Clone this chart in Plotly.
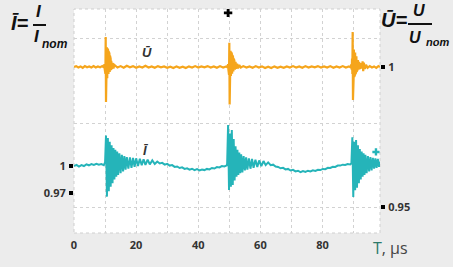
import plotly.graph_objects as go

# ---------------- data ----------------
x_ticks = [0, 20, 40, 60, 80]
x_minor = [10, 30, 50, 70, 90]

# normalised voltage U/Unom (right axis): (time us, value)
U_base1 = [(0, 1.0000), (0.7, 1.0003), (1.4, 0.9998), (2.1, 1.0002), (2.8, 0.9997),
           (3.5, 1.0003), (4.2, 0.9999), (4.9, 1.0002), (5.6, 0.9998), (6.3, 1.0003),
           (7.0, 0.9998), (7.7, 1.0002), (8.4, 0.9999), (9.1, 1.0003), (9.6, 0.9998)]
U_spike1 = [(9.8, 1.0010), (9.9, 0.9990), (10.0, 1.0030), (10.1, 0.9975), (10.2, 1.0107),
            (10.3, 0.9875), (10.4, 1.0065), (10.5, 0.9950), (10.6, 1.0070), (10.7, 0.9960),
            (10.8, 1.0065), (10.9, 0.9970), (11.0, 1.0060), (11.1, 0.9975), (11.2, 1.0055),
            (11.3, 0.9978), (11.4, 1.0048), (11.5, 0.9982), (11.6, 1.0040), (11.7, 0.9985),
            (11.8, 1.0030), (11.9, 0.9988), (12.0, 1.0022), (12.2, 0.9992), (12.4, 1.0014),
            (12.7, 0.9995), (13.0, 1.0007)]
U_base2 = [(14, 0.9998), (15, 1.0003), (16, 0.9997), (17, 1.0004), (18, 0.9999),
           (19, 1.0003), (20, 0.9997), (21, 1.0002), (22, 0.9998), (23, 1.0004),
           (24, 0.9998), (25, 1.0002), (26, 0.9997), (27, 1.0003), (28, 0.9999),
           (29, 1.0002), (30, 0.9997), (31, 1.0001), (32, 0.9996), (33, 1.0002),
           (34, 0.9997), (35, 1.0001), (36, 0.9996), (37, 1.0002), (38, 0.9998),
           (39, 1.0003), (40, 0.9998), (41, 1.0002), (42, 0.9999), (43, 1.0003),
           (44, 0.9998), (45, 1.0002), (46, 0.9997), (47, 1.0003), (48, 0.9998),
           (49, 1.0002), (49.4, 0.9998)]
U_spike2 = [(49.6, 1.0010), (49.7, 0.9990), (49.8, 1.0035), (49.9, 0.9972), (50.0, 1.0086),
            (50.1, 0.9866), (50.2, 1.0055), (50.3, 0.9960), (50.4, 1.0058), (50.5, 0.9968),
            (50.6, 1.0052), (50.7, 0.9972), (50.8, 1.0048), (50.9, 0.9976), (51.0, 1.0042),
            (51.1, 0.9980), (51.2, 1.0036), (51.3, 0.9984), (51.4, 1.0030), (51.5, 0.9987),
            (51.6, 1.0024), (51.8, 0.9990), (52.0, 1.0018), (52.2, 0.9993), (52.5, 1.0012),
            (52.8, 0.9995), (53.2, 1.0007), (53.7, 0.9998)]
U_base3 = [(54.5, 1.0003), (55.5, 0.9998), (56.5, 1.0002), (57.5, 0.9997), (58.5, 1.0003),
           (59.5, 0.9998), (60.5, 1.0002), (61.5, 0.9996), (62.5, 1.0001), (63.5, 0.9996),
           (64.5, 1.0002), (65.5, 0.9997), (66.5, 1.0001), (67.5, 0.9997), (68.5, 1.0002),
           (69.5, 0.9998), (70.5, 1.0003), (71.5, 0.9998), (72.5, 1.0002), (73.5, 0.9997),
           (74.5, 1.0003), (75.5, 0.9998), (76.5, 1.0002), (77.5, 0.9999), (78.5, 1.0003),
           (79.5, 0.9998), (80.5, 1.0002), (81.5, 0.9998), (82.5, 1.0003), (83.5, 0.9997),
           (84.5, 1.0002), (85.5, 0.9998), (86.5, 1.0003), (87.5, 0.9998), (88.5, 1.0002),
           (89.1, 0.9998)]
U_spike3 = [(89.3, 1.0010), (89.4, 0.9990), (89.5, 1.0030), (89.6, 0.9975), (89.7, 1.0125),
            (89.8, 0.9882), (89.9, 1.0068), (90.0, 0.9955), (90.1, 1.0062), (90.2, 0.9965),
            (90.3, 1.0058), (90.4, 0.9970), (90.5, 1.0052), (90.6, 0.9975), (90.7, 1.0046),
            (90.8, 0.9980), (90.9, 1.0038), (91.0, 0.9984), (91.1, 1.0032), (91.2, 0.9988),
            (91.4, 1.0025), (91.6, 0.9990), (91.8, 1.0018), (92.0, 0.9992), (92.3, 1.0014),
            (92.6, 0.9994), (92.9, 1.0020), (93.1, 0.9985), (93.3, 1.0015), (93.6, 0.9993),
            (94.0, 1.0008), (94.5, 0.9997)]
U_base4 = [(95.2, 1.0003), (95.9, 0.9998), (96.6, 1.0002), (97.3, 0.9997), (98.0, 1.0003),
           (98.5, 1.0000)]

# normalised current I/Inom (left axis): (time us, value)
I_base1 = [(0, 1.0000), (0.8, 1.0012), (1.6, 0.9993), (2.4, 1.0010), (3.2, 1.0000),
           (4.0, 1.0018), (4.8, 1.0008), (5.6, 1.0022), (6.4, 1.0012), (7.2, 1.0025),
           (8.0, 1.0015), (8.8, 1.0022), (9.6, 1.0010)]
I_spike1 = [(10.0, 1.004), (10.3, 1.034), (10.6, 0.966), (10.9, 1.031), (11.2, 0.972),
            (11.5, 1.027), (11.8, 0.977), (12.1, 1.023), (12.4, 0.981), (12.7, 1.020),
            (13.0, 0.985), (13.3, 1.018), (13.6, 0.988), (13.9, 1.016), (14.2, 0.990),
            (14.6, 1.014), (15.0, 0.992), (15.4, 1.0125), (15.8, 0.994), (16.2, 1.011),
            (16.6, 0.996), (17.0, 1.0100), (17.5, 0.997), (18.0, 1.0095), (18.5, 0.998),
            (19.0, 1.009), (19.5, 0.999), (20.0, 1.0085), (20.6, 1.000), (21.2, 1.008),
            (21.8, 1.0008), (22.4, 1.0075), (23.0, 1.0012), (23.7, 1.007), (24.4, 1.0018),
            (25.2, 1.0063), (26.0, 1.0022), (26.8, 1.005), (27.6, 1.0028)]
I_base2 = [(28.4, 1.0035), (29.2, 1.0015), (30.0, 1.0025), (30.8, 1.0005), (31.6, 1.0010),
           (32.4, 0.9990), (33.2, 0.9995), (34.0, 0.9978), (34.8, 0.9985), (35.6, 0.9968),
           (36.4, 0.9975), (37.2, 0.9960), (38.0, 0.9970), (38.8, 0.9955), (39.6, 0.9965),
           (40.4, 0.9952), (41.2, 0.9962), (42.0, 0.9955), (42.8, 0.9968), (43.6, 0.9962),
           (44.4, 0.9978), (45.2, 0.9972), (46.0, 0.9988), (46.8, 0.9985), (47.6, 1.0000),
           (48.4, 0.9995), (49.2, 1.0008)]
I_spike2 = [(49.3, 1.003), (49.6, 1.0456), (49.9, 0.9733), (50.2, 1.036), (50.5, 0.977),
            (50.8, 1.040), (51.1, 0.979), (51.4, 1.030), (51.7, 0.984), (52.0, 1.022),
            (52.3, 0.988), (52.6, 1.018), (52.9, 0.990), (53.2, 1.015), (53.5, 0.992),
            (53.8, 1.013), (54.2, 0.993), (54.6, 1.011), (55.0, 0.995), (55.4, 1.0095),
            (55.8, 0.996), (56.3, 1.0085), (56.8, 0.997), (57.3, 1.0078), (57.8, 0.998),
            (58.4, 1.007), (59.0, 0.999), (59.6, 1.0062), (60.3, 1.000), (61.0, 1.0055),
            (61.7, 1.001), (62.5, 1.004), (63.3, 1.001)]
I_base3 = [(64.1, 1.0015), (64.9, 0.9995), (65.7, 0.9990), (66.5, 0.9975), (67.3, 0.9980),
           (68.1, 0.9962), (68.9, 0.9968), (69.7, 0.9950), (70.5, 0.9958), (71.3, 0.9940),
           (72.1, 0.9948), (72.9, 0.9933), (73.7, 0.9945), (74.5, 0.9935), (75.3, 0.9948),
           (76.1, 0.9940), (76.9, 0.9952), (77.7, 0.9945), (78.5, 0.9958), (79.3, 0.9955),
           (80.1, 0.9968), (80.9, 0.9965), (81.7, 0.9980), (82.5, 0.9978), (83.3, 0.9992),
           (84.1, 0.9990), (84.9, 1.0005), (85.7, 1.0005), (86.5, 1.0015), (87.3, 1.0012),
           (88.1, 1.0022), (88.9, 1.0018)]
I_spike3 = [(89.3, 1.003), (89.6, 1.032), (89.9, 0.9656), (90.2, 1.027), (90.5, 0.973),
            (90.8, 1.029), (91.1, 0.976), (91.4, 1.023), (91.7, 0.981), (92.0, 1.019),
            (92.3, 0.985), (92.6, 1.016), (92.9, 0.988), (93.2, 1.014), (93.5, 0.990),
            (93.8, 1.0125), (94.2, 0.992), (94.6, 1.011), (95.0, 0.994), (95.4, 1.010),
            (95.8, 0.995), (96.2, 1.009), (96.6, 0.997), (97.0, 1.0085), (97.4, 0.998),
            (97.8, 1.008), (98.2, 0.999), (98.5, 1.005)]

# marker points
top_mark = [(49.6, 1.0193)]   # on U axis
end_mark = [(97.2, 1.0156)]   # on I axis

U_pts = U_base1 + U_spike1 + U_base2 + U_spike2 + U_base3 + U_spike3 + U_base4
I_pts = I_base1 + I_spike1 + I_base2 + I_spike2 + I_base3 + I_spike3
U_t = [p[0] for p in U_pts]
U_v = [p[1] for p in U_pts]
I_t = [p[0] for p in I_pts]
I_v = [p[1] for p in I_pts]

# ---------------- styling ----------------
ORANGE = "#f5a51c"
TEAL = "#25b4b9"
PLOT_L, PLOT_R, PLOT_T, PLOT_B = 74, 380, 9, 233
W, H = 453, 267


def px(x, y):
    return (x - PLOT_L) / (PLOT_R - PLOT_L), (PLOT_B - y) / (PLOT_B - PLOT_T)


fig = go.Figure()
fig.add_trace(go.Scatter(x=U_t, y=U_v, mode="lines", yaxis="y2",
                         line=dict(color=ORANGE, width=2.2), hoverinfo="skip"))
fig.add_trace(go.Scatter(x=I_t, y=I_v, mode="lines", yaxis="y",
                         line=dict(color=TEAL, width=2.0), hoverinfo="skip"))
fig.add_trace(go.Scatter(x=[p[0] for p in top_mark], y=[p[1] for p in top_mark],
                         mode="markers", yaxis="y2",
                         marker=dict(symbol="cross", size=7, color="black"),
                         hoverinfo="skip"))
fig.add_trace(go.Scatter(x=[p[0] for p in end_mark], y=[p[1] for p in end_mark],
                         mode="markers", yaxis="y",
                         marker=dict(symbol="cross", size=6, color=TEAL),
                         hoverinfo="skip"))

tickfont = dict(family="Open Sans", size=11, color="#333333", weight="bold")
grid = dict(showgrid=True, gridcolor="#d2d2d2", griddash="dot", gridwidth=1)

fig.update_layout(
    width=W, height=H,
    margin=dict(l=PLOT_L, r=W - PLOT_R, t=PLOT_T, b=H - PLOT_B, autoexpand=False),
    paper_bgcolor="#ececec", plot_bgcolor="white", showlegend=False,
    xaxis=dict(range=[0, 98.5], tickmode="array", tickvals=x_ticks,
               ticktext=[str(v) for v in x_ticks], ticks="", zeroline=False,
               showline=False, tickfont=tickfont, ticklabelstandoff=4, automargin=False,
               minor=dict(tickmode="array", tickvals=x_minor, ticks="", **grid), **grid),
    yaxis=dict(range=[0.9256, 1.1744], tickmode="array", tickvals=[0.97, 1.0],
               ticktext=["0.97", "1"], ticks="outside", ticklen=4, tickwidth=4,
               tickcolor="black", showgrid=False, zeroline=False, showline=False,
               tickfont=tickfont, ticklabelstandoff=1, automargin=False,
               minor=dict(tickmode="array", tickvals=[0.95444, 1.04778, 1.14111],
                          ticks="", **grid)),
    yaxis2=dict(range=[0.9407, 1.0207], overlaying="y", side="right", tickmode="array",
                tickvals=[0.95, 1.0], ticktext=["0.95", "1"], ticks="outside",
                ticklen=4, tickwidth=4, tickcolor="black", showgrid=False,
                zeroline=False, showline=False, tickfont=tickfont, ticklabelstandoff=1,
                automargin=False),
)

# dotted frame
fig.add_shape(type="rect", xref="paper", yref="paper", x0=0, x1=1, y0=0, y1=1,
              line=dict(color="#cfcfcf", width=1, dash="dot"), layer="below")

BI = dict(family="Liberation Sans", color="#111111", weight="bold", style="italic")


def ann(text, x, y, size, **kw):
    xp, yp = px(x, y)
    font = dict(BI)
    font.update(size=size)
    font.update(kw.pop("font", {}))
    fig.add_annotation(text=text, x=xp, y=yp, xref="paper", yref="paper",
                       showarrow=False, font=font, xanchor=kw.pop("xanchor", "center"),
                       yanchor="middle", **kw)


def bar(x0, x1, y):
    a, b = px(x0, y)
    c, _ = px(x1, y)
    fig.add_shape(type="line", xref="paper", yref="paper", x0=a, x1=c, y0=b, y1=b,
                  line=dict(color="#111111", width=2))


# left title  I = I / I_nom
ann("Ī=", 20, 23, 20)
ann("I", 39, 12, 17)
bar(33, 46, 25)
ann("I", 37, 36, 17)
ann("nom", 55, 44, 12)

# right title  U = U / U_nom
ann("Ū=", 394, 20, 20)
ann("U", 419, 11, 16)
bar(408, 432, 24)
ann("U", 415, 37, 16)
ann("nom", 437, 42, 11)

# curve labels
ann("Ū", 147, 52, 13, font=dict(color="#333333"))
ann("Ī", 146, 150, 13, font=dict(color="#333333"))

# x axis title
ann("<span style='color:#2d7a6a'>T</span>, μs", 390, 248, 16,
    font=dict(family="Open Sans", color="#444444", weight="normal", style="normal"))

fig.write_html("out.html", config={"displayModeBar": False},
               post_script="document.body.style.margin='0';"
                           "document.body.style.background='#ececec';")
